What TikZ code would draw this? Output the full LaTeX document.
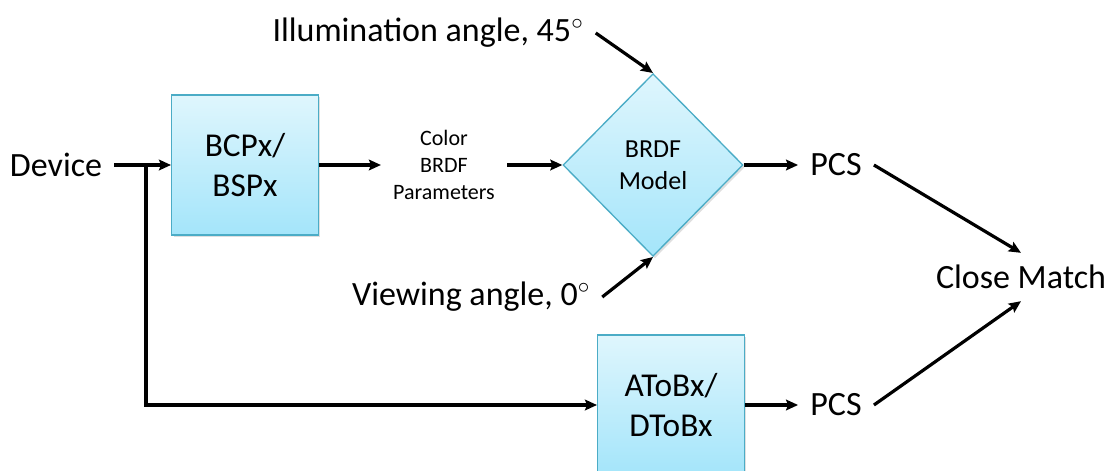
\documentclass[tikz,border=0pt]{standalone}
\usepackage{fontspec}
\setmainfont{Carlito}
\usepackage{xcolor}
\usetikzlibrary{positioning,arrows.meta,shapes.geometric,shadows}

\definecolor{boxtop}{HTML}{DFF6FD}
\definecolor{boxbot}{HTML}{A4E5FA}
\definecolor{boxedge}{HTML}{4BACC6}

\tikzset{
  lbl/.style={inner sep=9pt, font=\fontsize{25.5}{30}\selectfont},
  smalltxt/.style={inner sep=9pt, align=center, font=\fontsize{16.5}{20.5}\selectfont},
  blkbox/.style={draw=boxedge, line width=1pt, top color=boxtop, bottom color=boxbot,
    drop shadow={shadow xshift=1.5pt, shadow yshift=-1.5pt, opacity=0.25},
    minimum width=110pt, minimum height=105pt, align=center,
    font=\fontsize{25}{30}\selectfont},
  diam/.style={diamond, draw=boxedge, line width=1pt, top color=boxtop, bottom color=boxbot,
    drop shadow={shadow xshift=1.5pt, shadow yshift=-1.5pt, opacity=0.25},
    minimum width=135pt, minimum height=137pt, inner sep=0pt, align=center,
    font=\fontsize{19.5}{24}\selectfont},
  flow/.style={line width=2.4pt, -{Stealth[length=9pt,width=8pt,inset=1.5pt]}}
}

\begin{document}
\begin{tikzpicture}[x=0.75pt,y=-0.75pt]
  \useasboundingbox (0,0) rectangle (1111,471);

  % upper path
  \node[lbl] (dev) at (56,165) {Device};
  \coordinate (split) at (146,165);
  \node[blkbox] (bcp) at (245,165) {BCPx/\\BSPx};
  \node[smalltxt] (par) at (444,165) {Color\\BRDF\\Parameters};
  \node[diam] (brdf) at (653,165) {BRDF\\Model};
  \node[lbl] (pcs1) at (836,165) {PCS};
  \node[lbl] (illum) at (428,33) {Illumination angle, 45$^{\circ}$};
  \node[lbl] (view) at (471,297) {Viewing angle, 0$^{\circ}$};

  % lower path
  \node[blkbox] (atob) at (671,405) {AToBx/\\DToBx};
  \node[lbl] (pcs2) at (836,405) {PCS};

  \node[lbl] (match) at (1021,277) {Close Match};

  \draw[flow] (dev) -- (bcp);
  \draw[flow] (split) |- (atob);
  \draw[flow] (bcp) -- (par);
  \draw[flow] (par) -- (brdf);
  \draw[flow] (brdf) -- (pcs1);
  \draw[flow] (illum.east) -- (brdf.north);
  \draw[flow] (view.east) -- (brdf.south);
  \draw[flow] (atob) -- (pcs2);
  \draw[flow] (pcs1.east) -- (match.north);
  \draw[flow] (pcs2.east) -- (match.south);
\end{tikzpicture}
\end{document}
